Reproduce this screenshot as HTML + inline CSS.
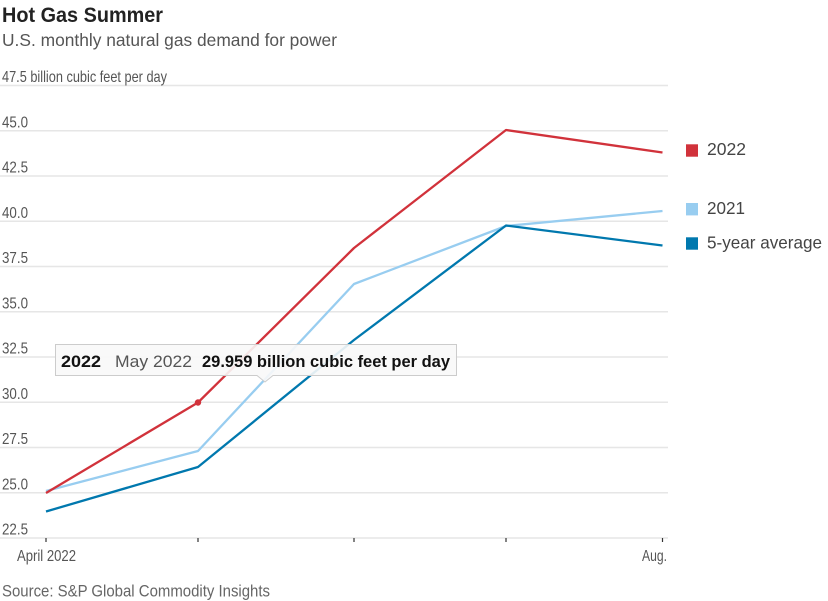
<!DOCTYPE html>
<html><head><meta charset="utf-8"><style>
html,body{margin:0;padding:0;background:#fff;}
svg{display:block;font-family:"Liberation Sans",sans-serif;}
</style></head><body>
<svg width="828" height="601" viewBox="0 0 828 601" xmlns="http://www.w3.org/2000/svg">
<rect width="828" height="601" fill="#fff"/>
<text x="2" y="22" font-size="21.5" font-weight="bold" fill="#222" textLength="161" lengthAdjust="spacingAndGlyphs">Hot Gas Summer</text>
<text x="2" y="46" font-size="17.8" fill="#555" textLength="335" lengthAdjust="spacingAndGlyphs">U.S. monthly natural gas demand for power</text>

<g stroke="#e6e6e6" stroke-width="1.5">
<line x1="0" x2="668" y1="85.5" y2="85.5"/>
<line x1="0" x2="668" y1="130.8" y2="130.8"/>
<line x1="0" x2="668" y1="176" y2="176"/>
<line x1="0" x2="668" y1="221.3" y2="221.3"/>
<line x1="0" x2="668" y1="266.5" y2="266.5"/>
<line x1="0" x2="668" y1="311.8" y2="311.8"/>
<line x1="0" x2="668" y1="357" y2="357"/>
<line x1="0" x2="668" y1="402.3" y2="402.3"/>
<line x1="0" x2="668" y1="447.5" y2="447.5"/>
<line x1="0" x2="668" y1="492.8" y2="492.8"/>
<line x1="0" x2="668" y1="538" y2="538"/>
</g>
<g font-size="15.6" fill="#555">
<text x="2" y="81.8" textLength="165" lengthAdjust="spacingAndGlyphs">47.5 billion cubic feet per day</text>
<text x="2" y="127.3" textLength="26" lengthAdjust="spacingAndGlyphs">45.0</text>
<text x="2" y="172.5" textLength="26" lengthAdjust="spacingAndGlyphs">42.5</text>
<text x="2" y="217.8" textLength="26" lengthAdjust="spacingAndGlyphs">40.0</text>
<text x="2" y="263" textLength="26" lengthAdjust="spacingAndGlyphs">37.5</text>
<text x="2" y="308.3" textLength="26" lengthAdjust="spacingAndGlyphs">35.0</text>
<text x="2" y="353.5" textLength="26" lengthAdjust="spacingAndGlyphs">32.5</text>
<text x="2" y="398.8" textLength="26" lengthAdjust="spacingAndGlyphs">30.0</text>
<text x="2" y="444" textLength="26" lengthAdjust="spacingAndGlyphs">27.5</text>
<text x="2" y="489.3" textLength="26" lengthAdjust="spacingAndGlyphs">25.0</text>
<text x="2" y="534.5" textLength="26" lengthAdjust="spacingAndGlyphs">22.5</text>
</g>
<g stroke="#333" stroke-width="1.2">
<line x1="46" x2="46" y1="538" y2="542"/>
<line x1="198" x2="198" y1="538" y2="542"/>
<line x1="354" x2="354" y1="538" y2="542"/>
<line x1="506" x2="506" y1="538" y2="542"/>
<line x1="662.5" x2="662.5" y1="538" y2="542"/>
</g>
<g font-size="15.6" fill="#555">
<text x="17" y="561" textLength="59" lengthAdjust="spacingAndGlyphs">April 2022</text>
<text x="642" y="561" textLength="25" lengthAdjust="spacingAndGlyphs">Aug.</text>
</g>

<g fill="none" stroke-width="2.3" stroke-linejoin="round">
<polyline stroke="#98cdf0" points="46,491 198,451 354,284 506,226 662.5,211"/>
<polyline stroke="#0078ae" points="46,511.5 198,467 354,340 506,225.5 662.5,245.5"/>
<polyline stroke="#d1323b" points="46,493 198,402.5 354,248 506,130 662.5,152.5"/>
</g>
<circle cx="198" cy="402.5" r="3.2" fill="#d1323b"/>

<g>
<path d="M55.5,344.5 H456.5 V375.5 H273 L265,382 L257,375.5 H55.5 Z" fill="#f8f8f8" fill-opacity="0.9" stroke="#cccccc" stroke-width="1"/>
<text x="61" y="367" font-size="17" font-weight="bold" fill="#111" textLength="40" lengthAdjust="spacingAndGlyphs">2022</text>
<text x="115" y="367" font-size="17" fill="#555" textLength="77" lengthAdjust="spacingAndGlyphs">May 2022</text>
<text x="202" y="367" font-size="17" font-weight="bold" fill="#111" textLength="248" lengthAdjust="spacingAndGlyphs">29.959 billion cubic feet per day</text>
</g>

<rect x="686" y="144.3" width="12" height="12.4" fill="#d1323b"/>
<rect x="686" y="203" width="12" height="12.4" fill="#98cdf0"/>
<rect x="686" y="237.3" width="12" height="12.4" fill="#0078ae"/>
<g font-size="17.8" fill="#444">
<text x="707" y="155" textLength="39" lengthAdjust="spacingAndGlyphs">2022</text>
<text x="707" y="214" textLength="38" lengthAdjust="spacingAndGlyphs">2021</text>
<text x="707" y="248.3" textLength="115" lengthAdjust="spacingAndGlyphs">5-year average</text>
</g>

<text x="2" y="596.5" font-size="16.3" fill="#666" textLength="268" lengthAdjust="spacingAndGlyphs">Source: S&amp;P Global Commodity Insights</text>
</svg>
</body></html>
